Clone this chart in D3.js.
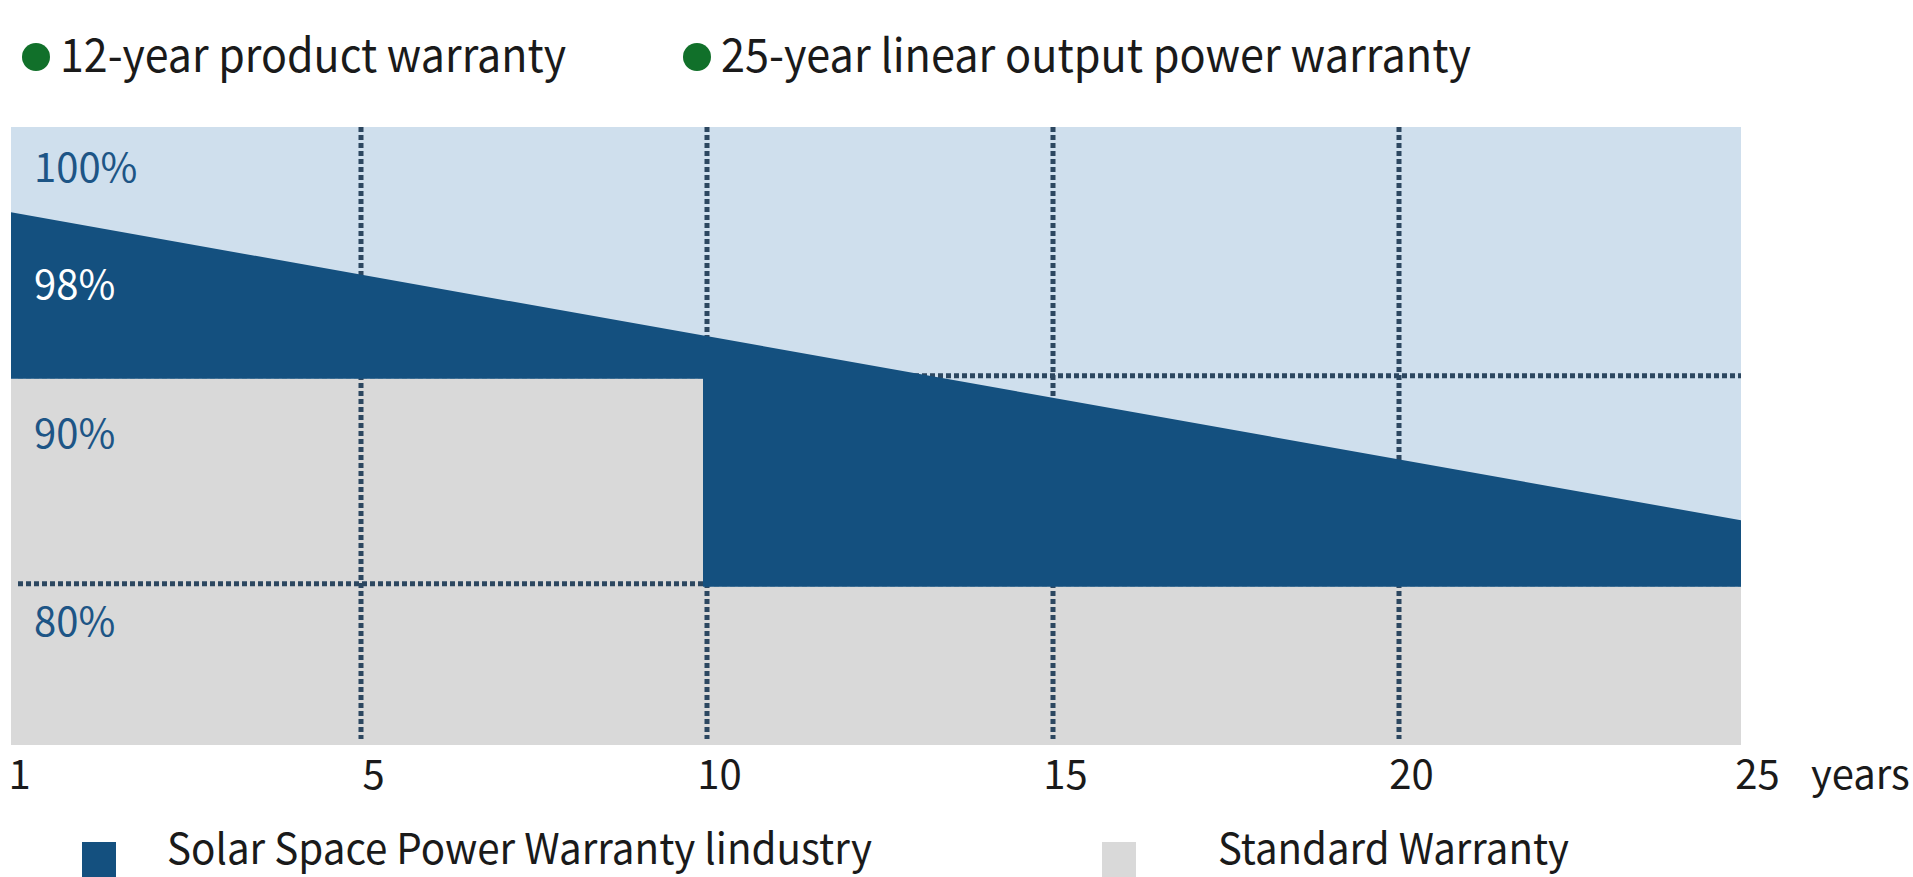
<!DOCTYPE html>
<html>
<head>
<meta charset="utf-8">
<script src="https://cdn.jsdelivr.net/npm/d3@7"></script>
<style>
  body { margin: 0; background: #fff; }
  svg text { font-family: "Noto Sans CJK SC", "Noto Sans", sans-serif; }
</style>
</head>
<body>
<div id="chart"></div>
<script>
// Values
var years = [1, 5, 10, 15, 20, 25];
var gridYears = [5, 10, 15, 20];
var gridValues = [80, 90];
var linearYears = [1, 25];
var linearValues = [98, 83.2];
var standardYears = [1, 10, 25];
var standardValues = [90, 80, 80];
var percentLabels = [100, 98, 90, 80];
var topLegend = ["12-year product warranty", "25-year linear output power warranty"];
var bottomLegend = ["Solar Space Power Warranty lindustry", "Standard Warranty"];

// Chart area
var svgWidth = 1913;
var svgHeight = 877;

var margin = {
  top: 127,
  right: 172,
  bottom: 132,
  left: 11
};

var chartW = svgWidth - margin.left - margin.right;
var chartH = svgHeight - margin.top - margin.bottom;

var darkBlue = "#14507f";
var lightBlue = "#cfdfed";
var gray = "#d9d9d9";
var gridColor = "#2c4760";

var svg = d3.select("#chart")
  .append("svg")
  .attr("width", svgWidth)
  .attr("height", svgHeight);

var chartGrp = svg.append("g")
  .attr("transform", `translate(${margin.left}, ${margin.top})`);

// Scales: the years are spaced evenly in the picture
var xScale = d3.scalePoint()
  .domain(years)
  .range([0, chartW]);

var yScale = d3.scaleLinear()
  .domain([72.4, 102.1])
  .range([chartH, 0]);

var standardData = standardYears.map((d, i) => ({year: d, value: standardValues[i]}));
var linearData = linearYears.map((d, i) => ({year: d, value: linearValues[i]}));

// light blue background
chartGrp.append("rect")
  .attr("width", chartW)
  .attr("height", chartH)
  .attr("fill", lightBlue);

// standard warranty (grey step)
var stepArea = d3.area()
  .curve(d3.curveStepAfter)
  .x(d => xScale(d.year))
  .y0(chartH)
  .y1(d => yScale(d.value));

chartGrp.append("path")
  .datum(standardData)
  .attr("d", stepArea)
  .attr("fill", gray);

// clip: everything above the standard warranty
var aboveArea = d3.area()
  .curve(d3.curveStepAfter)
  .x(d => xScale(d.year))
  .y0(0)
  .y1(d => yScale(d.value));

svg.append("defs")
  .append("clipPath")
  .attr("id", "above-standard")
  .append("path")
  .datum(standardData)
  .attr("d", aboveArea);

// dotted grid
chartGrp.selectAll(".vgrid")
  .data(gridYears)
  .enter()
  .append("line")
  .attr("x1", d => xScale(d) + 4)
  .attr("x2", d => xScale(d) + 4)
  .attr("y1", 0)
  .attr("y2", chartH - 6)
  .attr("stroke", gridColor)
  .attr("stroke-width", 5)
  .attr("stroke-dasharray", "5,3");

chartGrp.selectAll(".hgrid")
  .data(gridValues)
  .enter()
  .append("line")
  .attr("x1", 7)
  .attr("x2", chartW)
  .attr("y1", d => yScale(d) - 3)
  .attr("y2", d => yScale(d) - 3)
  .attr("stroke", gridColor)
  .attr("stroke-width", 5)
  .attr("stroke-dasharray", "5,3");

// linear warranty (dark blue)
var linearArea = d3.area()
  .x(d => xScale(d.year))
  .y0(chartH)
  .y1(d => yScale(d.value));

chartGrp.append("path")
  .datum(linearData)
  .attr("d", linearArea)
  .attr("fill", darkBlue)
  .attr("clip-path", "url(#above-standard)");

// percent labels sit inside their bands
var labelShift = {100: -6, 98: 70, 90: 52, 80: 32};
chartGrp.selectAll(".pct")
  .data(percentLabels)
  .enter()
  .append("text")
  .attr("x", 23)
  .attr("y", d => yScale(d) + labelShift[d])
  .attr("dominant-baseline", "central")
  .attr("font-size", "40px")
  .attr("fill", d => d === 98 ? "#ffffff" : "#1d5586")
  .text(d => d + "%");

// x axis
var bottomAxis = d3.axisBottom(xScale).tickSize(0).tickPadding(16);
var xAxisGrp = chartGrp.append("g")
  .attr("transform", `translate(0, ${chartH})`)
  .call(bottomAxis);
xAxisGrp.select(".domain").remove();
xAxisGrp.selectAll("text")
  .attr("x", (d, i) => i === 0 ? 8 : 16)
  .attr("font-size", "40px")
  .attr("font-family", null)
  .attr("fill", "#1a1a1a");

chartGrp.append("text")
  .attr("x", chartW + 70)
  .attr("y", chartH + 44)
  .attr("font-size", "40px")
  .attr("fill", "#1a1a1a")
  .text("years");

// top legend
var topX = [36, 697];
var topW = [506, 750];
var topGrp = svg.selectAll(".toplegend")
  .data(topLegend)
  .enter()
  .append("g")
  .attr("transform", (d, i) => `translate(${topX[i]}, 57)`);
topGrp.append("circle")
  .attr("r", 14)
  .attr("fill", "#11702a");
topGrp.append("text")
  .attr("x", 24)
  .attr("y", 15)
  .attr("font-size", "46px")
  .attr("fill", "#1a1a1a")
  .attr("textLength", (d, i) => topW[i])
  .attr("lengthAdjust", "spacingAndGlyphs")
  .text(d => d);

// bottom legend
var bottomX = [82, 1102];
var bottomW = [705, 351];
var bottomColors = [darkBlue, gray];
var botGrp = svg.selectAll(".botlegend")
  .data(bottomLegend)
  .enter()
  .append("g")
  .attr("transform", (d, i) => `translate(${bottomX[i]}, 842)`);
botGrp.append("rect")
  .attr("width", 34)
  .attr("height", 40)
  .attr("fill", (d, i) => bottomColors[i]);
botGrp.append("text")
  .attr("x", (d, i) => i === 0 ? 85 : 116)
  .attr("y", 22)
  .attr("font-size", "42px")
  .attr("fill", "#1a1a1a")
  .attr("textLength", (d, i) => bottomW[i])
  .attr("lengthAdjust", "spacingAndGlyphs")
  .text(d => d);
</script>
</body>
</html>
